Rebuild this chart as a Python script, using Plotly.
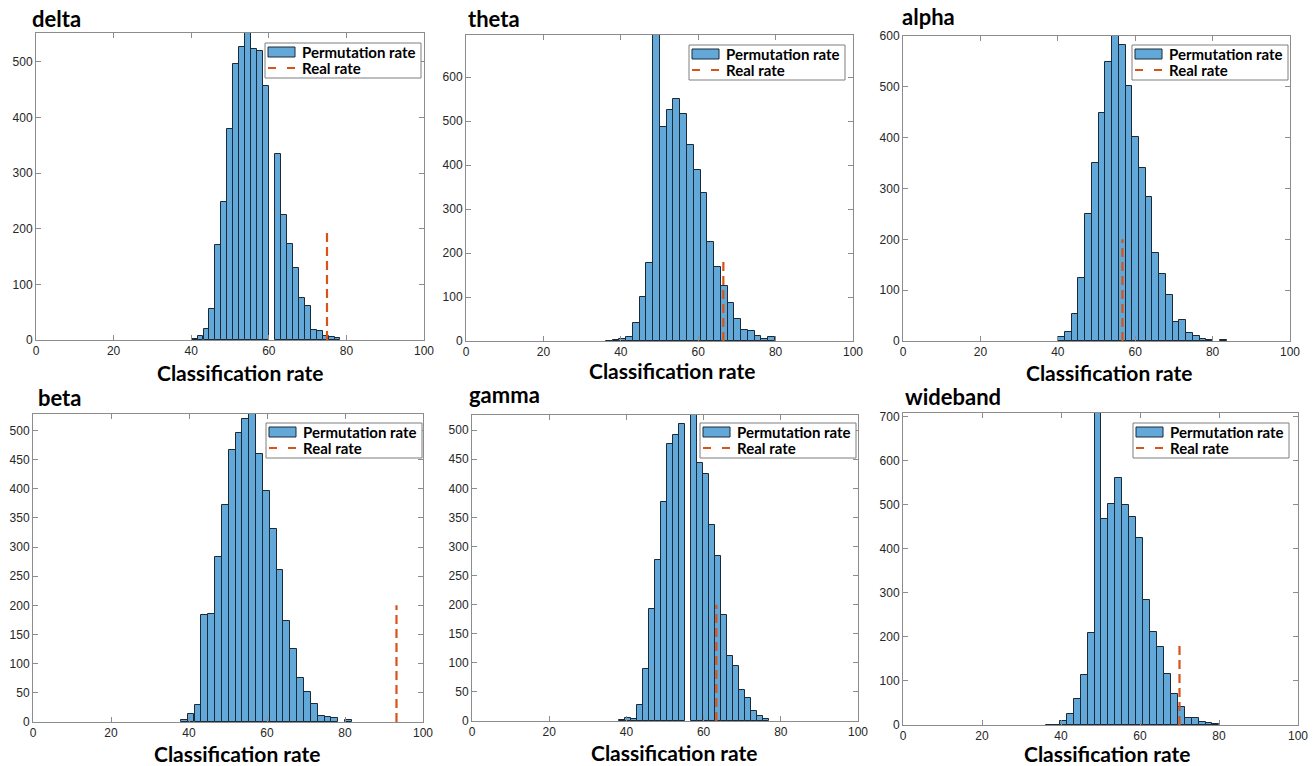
import plotly.graph_objects as go

# ---------------- data ----------------
panel_names = ["delta", "theta", "alpha", "beta", "gamma", "wideband"]

delta_centers = [40.87, 42.40, 43.94, 45.47, 47.01, 48.54, 50.08, 51.61, 53.15, 54.68, 56.22, 57.75,
                 59.29, 62.36, 63.89, 65.43, 66.96, 68.50, 70.03, 71.57, 73.10, 74.64, 76.17, 77.71]
delta_counts = [1, 7, 19, 55, 171, 248, 379, 497, 527, 560, 524, 520,
                457, 335, 224, 172, 129, 76, 61, 18, 17, 8, 6, 3]

theta_centers = [36.98, 38.73, 40.48, 42.23, 43.98, 45.73, 47.48, 49.23, 50.98, 52.73, 54.48, 56.23, 57.98,
                 59.73, 61.48, 63.23, 64.98, 66.73, 68.48, 70.23, 71.98, 73.73, 75.48, 77.23, 78.98]
theta_counts = [1, 2, 5, 10, 41, 101, 178, 720, 487, 525, 550, 517, 446,
                390, 336, 225, 168, 125, 87, 51, 26, 22, 11, 5, 8]

alpha_centers = [40.97, 42.71, 44.45, 46.19, 47.93, 49.67, 51.41, 53.15, 54.89, 56.63, 58.37, 60.11,
                 61.85, 63.59, 65.33, 67.07, 68.81, 70.55, 72.29, 74.03, 75.77, 77.51, 79.25, 82.73]
alpha_counts = [8, 17, 54, 124, 250, 350, 449, 548, 610, 582, 502, 401,
                341, 283, 174, 132, 91, 37, 41, 16, 9, 3, 1, 1]

beta_centers = [38.78, 40.53, 42.29, 44.04, 45.80, 47.55, 49.31, 51.06, 52.82, 54.57, 56.33, 58.08,
                59.84, 61.59, 63.35, 65.10, 66.86, 68.61, 70.37, 72.12, 73.88, 75.63, 77.39, 80.90]
beta_counts = [3, 13, 29, 184, 186, 283, 372, 466, 496, 519, 530, 460,
               396, 331, 260, 174, 125, 75, 51, 31, 10, 8, 7, 3]

gamma_centers = [38.78, 40.33, 41.89, 43.45, 45.00, 46.56, 48.11, 49.67, 51.22, 52.78, 54.34,
                 57.45, 59.00, 60.56, 62.12, 63.67, 65.23, 66.78, 68.34, 69.90, 71.45, 73.01, 74.56, 76.12]
gamma_counts = [1, 5, 3, 28, 89, 193, 276, 376, 477, 492, 510,
                530, 444, 424, 337, 284, 182, 112, 94, 53, 40, 17, 8, 4]

wideband_centers = [37.08, 38.83, 40.59, 42.34, 44.10, 45.86, 47.61, 49.37, 51.12, 52.88, 54.64, 56.39,
                    58.15, 59.90, 61.66, 63.42, 65.17, 66.93, 68.68, 70.44, 72.20, 73.95, 75.71, 77.46, 79.22]
wideband_counts = [1, 1, 10, 24, 59, 113, 209, 720, 469, 502, 561, 500,
                   472, 425, 284, 211, 177, 115, 71, 41, 17, 17, 6, 5, 3]

bin_widths = [1.535, 1.75, 1.74, 1.755, 1.556, 1.756]

real_rates = [75.0, 66.5, 56.7, 93.2, 63.3, 70.0]
real_heights = [200, 190, 200, 200, 200, 191]

y_max = [552, 696, 600, 528, 526, 709]
y_tick_step = [100, 100, 100, 50, 50, 100]
y_tick_top = [500, 600, 600, 500, 500, 700]
x_ticks = [0, 20, 40, 60, 80, 100]

legend_labels = ["Permutation rate", "Real rate"]
x_label = "Classification rate"

centers_all = [delta_centers, theta_centers, alpha_centers, beta_centers, gamma_centers, wideband_centers]
counts_all = [delta_counts, theta_counts, alpha_counts, beta_counts, gamma_counts, wideband_counts]

# ---------------- layout geometry (pixels) ----------------
W, H = 1315, 766
areas = [(36, 424, 33, 340), (466, 853, 35, 341), (903, 1290, 36, 341),
         (33, 423, 414, 722), (472, 858, 415, 721), (903, 1298, 413, 725)]
legend_box = [(265, 43), (689, 45), (1132, 45), (266, 423), (700, 423), (1133, 423)]
LEG_W, LEG_H = 156, 35
ROW_Y = [9, 25]
title_pos = [(30, 18), (466, 19), (900, 17), (36, 397), (467, 394), (903, 396)]
xlabel_pos = [(240, 372), (672, 370), (1109, 372), (237, 753), (674, 752), (1107, 753)]


def px(x):
    return x / W


def py(y):
    return 1 - y / H


BAR_FILL = "#62A8D9"
BAR_EDGE = "#1B2A36"
REAL = "#D95319"
AXIS_COL = "#8C8C8C"
TXT = "#262626"
TEXT_FONT = "Lato"
DASH = "9px,5px"

fig = go.Figure()
annotations = []
shapes = []

for i in range(6):
    n = "" if i == 0 else str(i + 1)
    xa = "x" + n
    ya = "y" + n
    fig.add_trace(go.Bar(
        x=centers_all[i], y=counts_all[i], width=bin_widths[i],
        marker=dict(color=BAR_FILL, line=dict(color=BAR_EDGE, width=1)),
        name=legend_labels[0], xaxis=xa, yaxis=ya, showlegend=False,
    ))
    fig.add_trace(go.Scatter(
        x=[real_rates[i], real_rates[i]], y=[0, real_heights[i]], mode="lines",
        line=dict(color=REAL, width=2.2, dash=DASH),
        name=legend_labels[1], xaxis=xa, yaxis=ya, showlegend=False,
    ))
    l, r, t, b = areas[i]
    axis_common = dict(showline=True, linecolor=AXIS_COL, linewidth=1, mirror="ticks",
                       ticks="inside", ticklen=5, tickcolor=AXIS_COL, showgrid=False, zeroline=False,
                       automargin=False,
                       tickfont=dict(family="Liberation Sans", size=12, color=TXT))
    fig.update_layout(**{
        ("xaxis" + n): dict(domain=[px(l), px(r)], anchor=ya, range=[0, 100],
                            tickvals=x_ticks, **axis_common),
        ("yaxis" + n): dict(domain=[py(b), py(t)], anchor=xa, range=[0, y_max[i]],
                            tickvals=list(range(0, y_tick_top[i] + 1, y_tick_step[i])), **axis_common),
    })
    annotations.append(dict(x=px(title_pos[i][0]), y=py(title_pos[i][1]), xref="paper", yref="paper",
                            text="<b>" + panel_names[i] + "</b>", showarrow=False,
                            xanchor="left", yanchor="middle",
                            font=dict(family=TEXT_FONT, size=22, color="black")))
    annotations.append(dict(x=px(xlabel_pos[i][0]), y=py(xlabel_pos[i][1]), xref="paper", yref="paper",
                            text="<b>" + x_label + "</b>", showarrow=False,
                            xanchor="center", yanchor="middle",
                            font=dict(family=TEXT_FONT, size=21, color="black")))
    L, T = legend_box[i]
    shapes.append(dict(type="rect", xref="paper", yref="paper",
                       x0=px(L), x1=px(L + LEG_W), y0=py(T + LEG_H), y1=py(T),
                       line=dict(color="#7F7F7F", width=1), fillcolor="white", layer="above"))
    shapes.append(dict(type="rect", xref="paper", yref="paper",
                       x0=px(L + 3), x1=px(L + 30), y0=py(T + ROW_Y[0] + 5), y1=py(T + ROW_Y[0] - 5),
                       line=dict(color=BAR_EDGE, width=1), fillcolor=BAR_FILL, layer="above"))
    shapes.append(dict(type="line", xref="paper", yref="paper",
                       x0=px(L + 3), x1=px(L + 30), y0=py(T + ROW_Y[1]), y1=py(T + ROW_Y[1]),
                       line=dict(color=REAL, width=2.2, dash="8px,11px"), layer="above"))
    for k, lab in enumerate(legend_labels):
        annotations.append(dict(x=px(L + 35), y=py(T + ROW_Y[k]), xref="paper", yref="paper",
                                text="<b>" + lab + "</b>", showarrow=False,
                                xanchor="left", yanchor="middle",
                                font=dict(family=TEXT_FONT, size=15, color="black")))

fig.update_layout(width=W, height=H, margin=dict(l=0, r=0, t=0, b=0, autoexpand=False),
                  plot_bgcolor="white", paper_bgcolor="white", bargap=0, showlegend=False,
                  annotations=annotations, shapes=shapes)

fig.write_html("out.html", config={"displayModeBar": False},
               post_script="document.body.style.margin='0';document.body.style.overflow='hidden';")
